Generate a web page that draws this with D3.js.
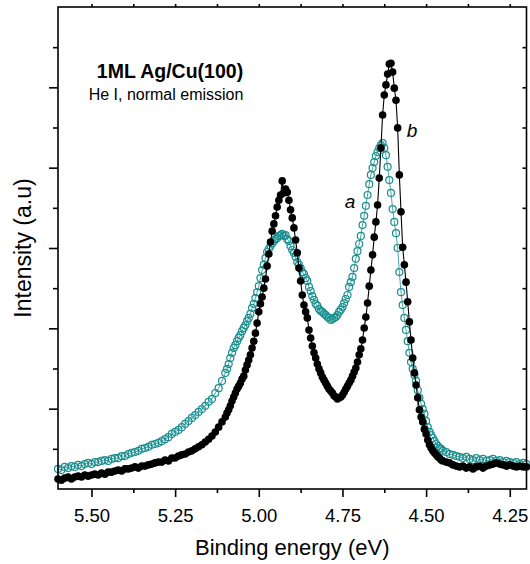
<!DOCTYPE html>
<html><head><meta charset="utf-8">
<script src="https://cdn.jsdelivr.net/npm/d3@7"></script>
<style>body{margin:0;background:#fff}svg{display:block}text{font-family:"Liberation Sans",Arial,sans-serif}</style>
</head><body><div id="chart"></div>
<script>
// Binding energy (eV)
const energy = [5.60,5.59,5.58,5.57,5.56,5.55,5.54,5.53,5.52,5.51,5.50,5.49,5.48,5.47,5.46,5.45,5.44,5.43,5.42,5.41,5.40,5.39,5.38,5.37,5.36,5.35,5.34,5.33,5.32,5.31,5.30,5.29,5.28,5.27,5.26,5.25,5.24,5.23,5.22,5.21,5.20,5.19,5.18,5.17,5.16,5.15,5.14,5.13,5.12,5.11,5.10,
5.095,5.090,5.085,5.080,5.075,5.070,5.065,5.060,5.055,5.050,5.045,5.040,5.035,5.030,5.025,5.020,5.015,5.010,5.005,5.000,
4.995,4.990,4.985,4.980,4.975,4.970,4.965,4.960,4.955,4.950,4.945,4.940,4.935,4.930,4.925,4.920,4.915,4.910,4.905,4.900,
4.895,4.890,4.885,4.880,4.875,4.870,4.865,4.860,4.855,4.850,4.845,4.840,4.835,4.830,4.825,4.820,4.815,4.810,4.805,4.800,
4.795,4.790,4.785,4.780,4.775,4.770,4.765,4.760,4.755,4.750,4.745,4.740,4.735,4.730,4.725,4.720,4.715,4.710,4.705,4.700,
4.695,4.690,4.685,4.680,4.675,4.670,4.665,4.660,4.655,4.650,4.645,4.640,4.635,4.630,4.625,4.620,4.615,4.610,4.605,4.600,
4.595,4.590,4.585,4.580,4.575,4.570,4.565,4.560,4.555,4.550,4.545,4.540,4.535,4.530,4.525,4.520,4.515,4.510,4.505,4.500,
4.495,4.490,4.485,4.480,4.475,4.470,4.465,4.460,4.455,4.450,
4.44,4.43,4.42,4.41,4.40,4.39,4.38,4.37,4.36,4.35,4.34,4.33,4.32,4.31,4.30,4.29,4.28,4.27,4.26,4.25,4.24,4.23,4.22,4.21,4.20];

// Curve a (open teal circles)
const intensityA = [0.50,0.47,0.55,0.52,0.57,0.55,0.60,0.57,0.62,0.65,
0.62,0.67,0.67,0.70,0.72,0.70,0.75,0.77,0.77,0.82,
0.82,0.87,0.90,0.92,0.95,1.00,1.02,1.05,1.10,1.12,
1.15,1.19,1.24,1.29,1.37,1.42,1.47,1.54,1.62,1.69,
1.77,1.84,1.92,1.99,2.07,2.17,2.24,2.39,2.51,2.69,
2.89,
2.99,3.11,3.26,3.39,3.51,3.58,3.68,3.76,3.83,3.93,
4.01,4.08,4.18,4.26,4.36,4.51,4.61,4.75,4.90,5.05,
5.25,5.45,5.58,5.75,5.90,5.97,6.05,6.12,6.17,6.22,
6.25,6.30,6.32,6.35,6.30,6.32,6.22,6.17,6.05,5.95,
5.88,5.78,5.65,5.58,5.50,5.40,5.35,5.25,5.18,5.03,
4.93,4.80,4.71,4.61,4.56,4.48,4.43,4.41,4.36,4.33,
4.28,4.26,4.21,4.23,4.26,4.28,4.33,4.41,4.46,4.53,
4.63,4.73,4.83,5.03,5.15,5.28,5.50,5.73,5.92,6.10,
6.30,6.57,6.80,7.05,7.32,7.59,7.82,7.99,8.14,8.29,
8.39,8.49,8.56,8.61,8.49,8.31,8.02,7.69,7.37,6.97,
6.65,6.37,6.00,5.40,4.90,4.58,4.26,3.96,3.68,3.39,
3.16,2.99,2.84,2.69,2.46,2.27,2.12,1.99,1.87,1.69,
1.54,1.42,1.34,1.27,1.19,1.12,1.07,1.02,1.00,0.95,
0.92,0.87,0.85,0.82,0.80,0.77,0.80,0.75,0.72,0.77,
0.72,0.75,0.70,0.72,0.75,0.70,0.72,0.67,0.70,0.67,
0.65,0.67,0.62,0.65,0.62];

// Curve b (filled black circles)
const intensityB = [0.25,0.22,0.27,0.30,0.25,0.30,0.32,0.30,0.35,0.32,
0.35,0.37,0.35,0.40,0.37,0.42,0.42,0.45,0.47,0.45,
0.50,0.50,0.52,0.55,0.52,0.57,0.57,0.60,0.62,0.65,
0.67,0.67,0.72,0.70,0.77,0.77,0.82,0.85,0.87,0.92,
0.95,1.00,1.05,1.10,1.17,1.24,1.32,1.42,1.54,1.67,
1.79,
1.89,1.97,2.07,2.19,2.29,2.39,2.49,2.56,2.64,2.74,
2.81,2.96,3.09,3.21,3.34,3.51,3.68,3.88,4.13,4.41,
4.61,4.78,5.00,5.23,5.55,5.85,6.15,6.42,6.60,6.80,
7.02,7.19,7.32,7.67,7.37,7.47,7.39,7.19,6.95,6.75,
6.50,6.20,5.88,5.50,5.18,4.83,4.58,4.41,4.26,3.96,
3.76,3.56,3.39,3.26,3.11,2.99,2.89,2.79,2.71,2.64,
2.56,2.49,2.44,2.39,2.32,2.29,2.24,2.27,2.29,2.34,
2.41,2.49,2.56,2.64,2.71,2.81,2.91,3.01,3.16,3.34,
3.49,3.71,4.01,4.28,4.63,5.05,5.45,5.83,6.27,6.65,
7.07,7.74,8.49,9.31,9.81,10.06,10.33,10.58,10.60,10.38,
9.98,9.68,8.99,7.82,6.90,6.02,5.58,5.15,4.66,4.16,
3.71,3.26,2.89,2.59,2.27,1.97,1.79,1.67,1.49,1.37,
1.22,1.10,1.02,0.95,0.90,0.85,0.80,0.77,0.72,0.70,
0.67,0.65,0.60,0.57,0.55,0.57,0.52,0.55,0.50,0.55,
0.57,0.52,0.57,0.60,0.62,0.65,0.62,0.60,0.57,0.60,
0.57,0.55,0.57,0.55,0.55];

const xMajorTicks = [5.50,5.25,5.00,4.75,4.50,4.25];
const xTickLabels = ["5.50","5.25","5.00","4.75","4.50","4.25"];
const xMinorTicks = [5.375,5.125,4.875,4.625,4.375];
const yMajorTicks = [2,4,6,8,10];
const yMinorTicks = [1,3,5,7,9,11];
const xDomain = [5.6, 4.2];
const yDomain = [0, 12];

const W = 530, H = 564;
const L = 58, R = 526.5, T = 7, B = 489;
const teal = "#1b8f8f";

const svg = d3.select("#chart").append("svg").attr("width", W).attr("height", H);
const x = d3.scaleLinear().domain(xDomain).range([L, R]);
const y = d3.scaleLinear().domain(yDomain).range([B, T]);

const dataA = energy.map((e, i) => ({e, v: intensityA[i]}));
const dataB = energy.map((e, i) => ({e, v: intensityB[i]}));
const line = d3.line().x(d => x(d.e)).y(d => y(d.v));

// curve a
svg.append("path").datum(dataA).attr("d", line).attr("fill", "none").attr("stroke", teal).attr("stroke-width", 0.8);
svg.append("g").selectAll("circle").data(dataA).join("circle")
  .attr("cx", d => x(d.e)).attr("cy", d => y(d.v)).attr("r", 3.5)
  .attr("fill", "none").attr("stroke", teal).attr("stroke-width", 1.2);

// curve b
svg.append("path").datum(dataB).attr("d", line).attr("fill", "none").attr("stroke", "#000").attr("stroke-width", 1.1);
svg.append("g").selectAll("circle").data(dataB).join("circle")
  .attr("cx", d => x(d.e)).attr("cy", d => y(d.v)).attr("r", 3.8)
  .attr("fill", "#000");

// axes
const axW = 1.6;
function styleAxis(g){ g.select(".domain").remove(); g.selectAll("line").attr("stroke","#000").attr("stroke-width",axW); }

const gxb = svg.append("g").attr("transform", `translate(0,${B})`)
  .call(d3.axisBottom(x).tickValues(xMajorTicks).tickSize(8).tickPadding(12)
    .tickFormat((d, i) => xTickLabels[i]));
styleAxis(gxb);
gxb.selectAll("text").attr("font-size", 18.5).attr("fill", "#000");
svg.append("g").attr("transform", `translate(0,${B})`)
  .call(d3.axisBottom(x).tickValues(xMinorTicks).tickSize(4).tickFormat(""))
  .call(styleAxis);

svg.append("g").attr("transform", `translate(0,${T})`)
  .call(d3.axisTop(x).tickValues(xMajorTicks.concat(xMinorTicks)).tickSize(3).tickFormat(""))
  .call(styleAxis);

svg.append("g").attr("transform", `translate(${L},0)`)
  .call(d3.axisLeft(y).tickValues(yMajorTicks).tickSize(9).tickFormat(""))
  .call(styleAxis);
svg.append("g").attr("transform", `translate(${L},0)`)
  .call(d3.axisLeft(y).tickValues(yMinorTicks).tickSize(5).tickFormat(""))
  .call(styleAxis);
svg.append("g").attr("transform", `translate(${R},0)`)
  .call(d3.axisLeft(y).tickValues(yMajorTicks.concat(yMinorTicks)).tickSize(4).tickFormat(""))
  .call(styleAxis);

// frame
svg.append("rect").attr("x", L).attr("y", T).attr("width", R - L).attr("height", B - T)
  .attr("fill", "none").attr("stroke", "#000").attr("stroke-width", axW);

// labels
svg.append("text").attr("x", (L + R) / 2).attr("y", 555).attr("text-anchor", "middle")
  .attr("font-size", 22).text("Binding energy (eV)");
svg.append("text").attr("transform", `translate(31,${(T + B) / 2}) rotate(-90)`).attr("text-anchor", "middle")
  .attr("font-size", 23).text("Intensity (a.u)");

svg.append("text").attr("x", 170).attr("y", 78).attr("text-anchor", "middle")
  .attr("font-size", 19.5).attr("font-weight", "bold").text("1ML Ag/Cu(100)");
svg.append("text").attr("x", 166).attr("y", 100).attr("text-anchor", "middle")
  .attr("font-size", 16).text("He I, normal emission");

svg.append("text").attr("x", 350).attr("y", 208).attr("text-anchor", "middle")
  .attr("font-size", 19).attr("font-style", "italic").text("a");
svg.append("text").attr("x", 412).attr("y", 137).attr("text-anchor", "middle")
  .attr("font-size", 19).attr("font-style", "italic").text("b");
</script></body></html>
